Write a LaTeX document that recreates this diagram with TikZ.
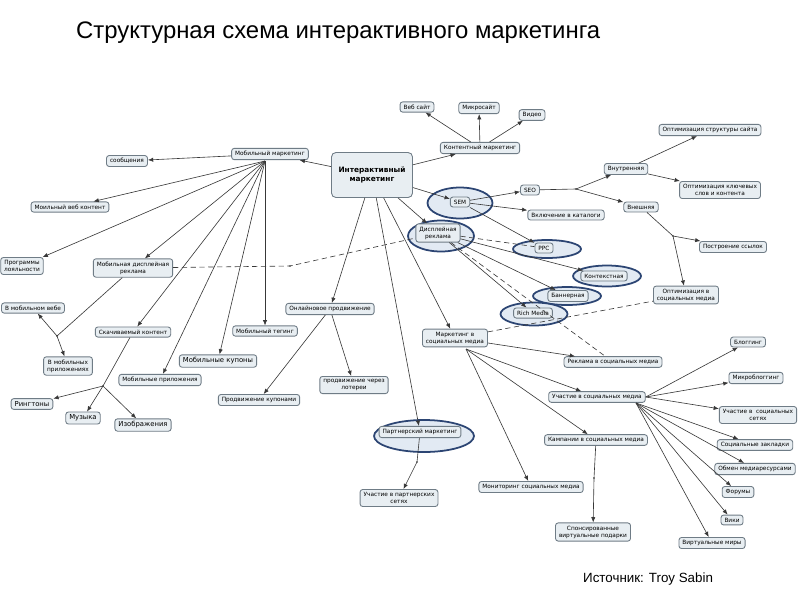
\documentclass[tikz,border=0pt]{standalone}
\usepackage{fontspec}
\setmainfont{DejaVu Sans}
\newfontfamily\headfont{Liberation Sans}
\usetikzlibrary{shapes.geometric,arrows.meta}
\definecolor{boxfill}{HTML}{E8EEF2}
\definecolor{boxline}{HTML}{6F7C86}
\definecolor{ovalline}{HTML}{2C4573}
\definecolor{ovalfill}{HTML}{E2EAF3}
\definecolor{linkcol}{HTML}{383838}
\newcommand\mapfont{\fontsize{3.3pt}{4pt}\selectfont}
\newcommand\mapbigfont{\fontsize{3.9pt}{4.6pt}\selectfont}
\tikzset{
  box/.style={draw=boxline,fill=boxfill,line width=0.5pt,rounded corners=1.5pt,
    font=\mapfont,align=center,inner xsep=2pt,inner ysep=1.6pt},
  bigbox/.style={box,font=\mapbigfont},
  hub/.style={box,font=\fontsize{4.2pt}{5.2pt}\selectfont\bfseries,rounded corners=2.5pt,
    minimum width=1.62cm,minimum height=0.9cm},
  oval/.style={ellipse,draw=ovalline,fill=ovalfill,line width=1pt,inner sep=0pt},
  link/.style={draw=linkcol,line width=0.35pt,-{Latex[length=3pt,width=2.4pt]}},
  plain/.style={draw=linkcol,line width=0.35pt},
  dashlink/.style={draw=linkcol,line width=0.35pt,densely dashed},
  knot/.style={fill=linkcol}
}
\begin{document}
\begin{tikzpicture}[x=0.02cm,y=-0.02cm]
\def\W{800} \def\H{599}
\fill [white](0,0) rectangle (\W,\H);
\useasboundingbox (0,0) rectangle (\W,\H);
\node [anchor=west,font=\headfont\fontsize{13.6pt}{16pt}\selectfont] (title) at (70,33) {Структурная схема интерактивного маркетинга};
\node [anchor=west,font=\headfont\fontsize{7.6pt}{9pt}\selectfont] (source) at (577,579) {Источник: Troy Sabin};
% выделенные узлы
\node [oval,minimum width=1.3cm,minimum height=0.62cm] (semO) at (460,203) {};
\node [oval,minimum width=1.32cm,minimum height=0.62cm] (dispO) at (441,236) {};
\node [oval,minimum width=1.36cm,minimum height=0.36cm] (ppcO) at (547,249) {};
\node [oval,minimum width=1.36cm,minimum height=0.42cm] (contextO) at (607,276) {};
\node [oval,minimum width=1.36cm,minimum height=0.36cm] (bannerO) at (567,296) {};
\node [oval,minimum width=1.34cm,minimum height=0.46cm] (richO) at (534,314) {};
\node [oval,minimum width=2cm,minimum height=0.64cm] (partnerO) at (424,436) {};
% центр
\node [hub] (inter) at (372,175) {Интерактивный\\маркетинг};
% мобильный маркетинг
\node [box] (mob) at (270,154) {Мобильный маркетинг};
\node [box] (soob) at (127,161) {сообщения};
\node [box] (webc) at (70,207) {Моильный веб контент};
\node [box] (loyal) at (22,266) {Программы\\лояльности};
\node [box] (mobdisp) at (133,268) {Мобильная дисплейная\\реклама};
\node [box] (inweb) at (33,308) {В мобильном вебе};
\node [box] (inapp) at (68,366) {В мобильных\\приложениях};
\node [box] (download) at (133,332) {Скачиваемый контент};
\node [box] (mobapps) at (160,380) {Мобильные приложения};
\node [bigbox] (coupons) at (218,361) {Мобильные купоны};
\node [box] (tagging) at (265,331) {Мобильный тегинг};
\node [bigbox] (ring) at (32,404) {Рингтоны};
\node [bigbox] (music) at (83,418) {Музыка};
\node [bigbox] (images) at (143,425) {Изображения};
% онлайновое продвижение, партнерский маркетинг
\node [box] (online) at (330,309) {Онлайновое продвижение};
\node [box] (byCoupon) at (259,400) {Продвижение купонами};
\node [box] (lottery) at (354,385) {продвижение через\\лотереи};
\node [box] (partner) at (420,432) {Партнерский маркетинг};
\node [box] (networks) at (399,498) {Участие в партнерских\\сетях};
% контент, поиск
\node [box] (content) at (480,148) {Контентный маркетинг};
\node [box] (website) at (417,107) {Веб сайт};
\node [box] (microsite) at (479,108) {Микросайт};
\node [box] (video) at (532,115) {Видео};
\node [box] (sem) at (460,202) {SEM};
\node [box] (seo) at (530,190) {SEO};
\node [box] (catalog) at (566,215) {Включение в каталоги};
\node [box] (inner) at (626,169) {Внутренняя};
\node [box] (outer) at (641,207) {Внешняя};
\node [box] (structure) at (710,130) {Оптимизация структуры сайта};
\node [box] (keywords) at (720,190) {Оптимизация ключевых\\слов и контента};
\node [box] (links) at (733,247) {Построение ссылок};
\node [box] (smo) at (686,295) {Оптимизация в\\социальных медиа};
% дисплейная реклама
\node [box] (disp) at (438,233) {Дисплейная\\реклама};
\node [box] (ppc) at (544,248) {PPC};
\node [box] (context) at (604,276) {Контекстная};
\node [box] (banner) at (568,296) {Баннерная};
\node [box] (rich) at (533,313) {Rich Media};
% социальные медиа
\node [box] (social) at (455,338) {Маркетинг в\\социальных медиа};
\node [box] (socAds) at (613,362) {Реклама в социальных медиа};
\node [box] (socPart) at (597,397) {Участие в социальных медиа};
\node [box] (socCamp) at (596,440) {Кампании в социальных медиа};
\node [box] (socMon) at (531,487) {Мониторинг социальных медиа};
\node [box] (gifts) at (593,532) {Спонсированные\\виртуальные подарки};
\node [box] (blog) at (748,342) {Блоггинг};
\node [box] (microblog) at (756,378) {Микроблоггинг};
\node [box] (socNet) at (758,415) {Участие в \ социальных\\сетях};
\node [box] (bookmarks) at (755,445) {Социальные закладки};
\node [box] (mediaShare) at (755,469) {Обмен медиаресурсами};
\node [box] (forums) at (738,492) {Форумы};
\node [box] (wiki) at (732,520) {Вики};
\node [box] (worlds) at (712,543) {Виртуальные миры};
% точки ветвления
\coordinate (mobFan) at (265,161);
\coordinate (socFan) at (466,349);
\coordinate (partFan) at (636,403);
\coordinate (jDisp) at (57,336);
\coordinate (jDown) at (103,386);
\coordinate (jDash) at (290,266);
\coordinate (jSeo) at (576,189);
\coordinate (jExt) at (673,236);
\coordinate (jPart) at (417,462);
\coordinate (jCamp) at (594,478);
\foreach \j in {jDisp,jDown,jDash,jSeo,jExt,jPart,jCamp} \fill [knot](\j) circle (0.5pt);
% связи
\foreach \t in {mob,content,sem,disp,online,partner,social} \draw [link](inter)--(\t);
\draw [link](mob)--(soob);
\foreach \t in {webc,loyal,mobdisp,download,mobapps,coupons,tagging} \draw [link](mobFan)--(\t);
\draw [plain](mobdisp)--(jDisp);
\draw [link](jDisp)--(inweb);
\draw [link](jDisp)--(inapp);
\draw [plain](download)--(jDown);
\foreach \t in {ring,music,images} \draw [link](jDown)--(\t);
\draw [link](online)--(byCoupon);
\draw [link](online)--(lottery);
\draw [plain](partner)--(jPart);
\draw [link](jPart)--(networks);
\foreach \t in {website,microsite,video} \draw [link](content)--(\t);
\foreach \t in {seo,catalog,ppc} \draw [link](sem)--(\t);
\draw [plain](seo)--(jSeo);
\draw [link](jSeo)--(inner);
\draw [link](jSeo)--(outer);
\draw [link](inner)--(structure);
\draw [link](inner)--(keywords);
\draw [plain](outer)--(jExt);
\draw [link](jExt)--(links);
\draw [link](jExt)--(smo);
\foreach \t in {context,banner,rich} \draw [link](disp)--(\t);
\draw [dashlink](mobdisp)--(jDash)--(disp);
\draw [dashlink](disp)--(ppc);
\draw [dashlink](disp)--(socAds);
\draw [dashlink](social)--(smo);
\draw [link](social)--(socAds);
\foreach \t in {socPart,socCamp,socMon} \draw [link](socFan)--(\t);
\draw [plain](socCamp)--(jCamp);
\draw [link](jCamp)--(gifts);
\foreach \t in {blog,microblog,socNet} \draw [link](socPart.east)--(\t);
\foreach \t in {bookmarks,mediaShare,forums,wiki,worlds} \draw [link](partFan)--(\t);
\end{tikzpicture}
\end{document}
